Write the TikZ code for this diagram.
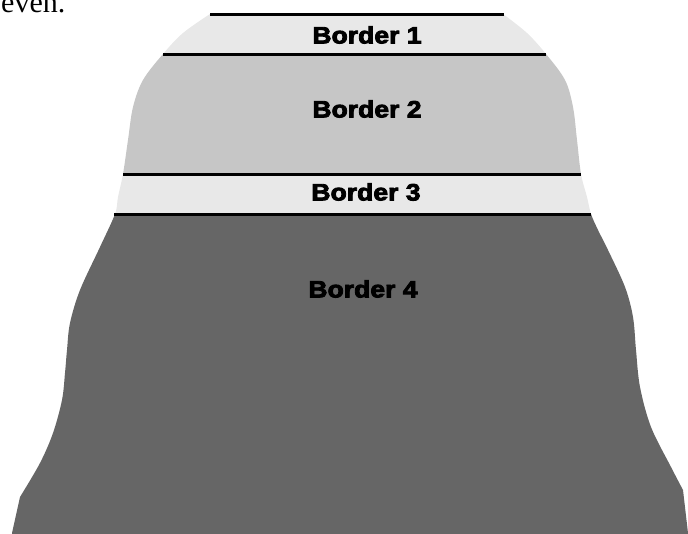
\documentclass[tikz,border=0pt]{standalone}
\usepackage{fontspec}
\newfontfamily\labelfont{Liberation Sans Bold}[FakeBold=3.6, FakeStretch=1.13]
\newfontfamily\bodyfont{Liberation Serif}
\definecolor{bandlight}{HTML}{E8E8E8}
\definecolor{bandmid}{HTML}{C6C6C6}
\definecolor{banddark}{HTML}{666666}
\tikzset{
  layerlabel/.style={font=\labelfont\fontsize{23.5}{27}\selectfont, text=black, inner sep=0pt, anchor=center},
  boundary/.style={draw=black, line width=3pt, line cap=butt},
}
\begin{document}
\begin{tikzpicture}[x=1pt, y=-1pt]
\useasboundingbox (0,0) rectangle (688,533);

% trailing word of the preceding paragraph
\node[font=\bodyfont\fontsize{30}{34}\selectfont, anchor=base west, inner sep=0pt] (prevtext) at (1,12.7) {even.};

% outline of the layered body
\def\outline{
  (12,540) -- (12,533) -- (20,497)
  -- plot[smooth, tension=0.55] coordinates {(20,497) (40,463) (53,433) (62,400) (65,373) (67,350) (70,323) (80,290) (100,247) (115,214) (118,197) (123,174) (128,140) (133,107) (143,80) (163,54) (183,33) (210,14)}
  -- (503,14)
  -- plot[smooth, tension=0.55] coordinates {(503,14) (527,33) (546,54) (565,80) (573,107) (577,140) (581,174) (587,197) (591,214) (598,230) (608,250) (625,287) (633,317) (636,350) (640,387) (651,427) (671,467) (683,490)}
  -- (688,533) -- (690,540) -- cycle
}

\begin{scope}
  \clip \outline;
  \fill[bandlight] (0,0) rectangle (688,54);
  \fill[bandmid] (0,54) rectangle (688,174);
  \fill[bandlight] (0,174) rectangle (688,214);
  \fill[banddark] (0,214) rectangle (688,545);
\end{scope}

% layer boundaries
\draw[boundary] (210,14) -- (504,14);
\draw[boundary] (163,54) -- (546,54);
\draw[boundary] (123,174) -- (581,174);
\draw[boundary] (114,214) -- (591,214);

% layer names
\node[layerlabel] (b1) at (367,35) {Border 1};
\node[layerlabel] (b2) at (367,109) {Border 2};
\node[layerlabel] (b3) at (366,192) {Border 3};
\node[layerlabel] (b4) at (363,289) {Border 4};
\end{tikzpicture}
\end{document}
